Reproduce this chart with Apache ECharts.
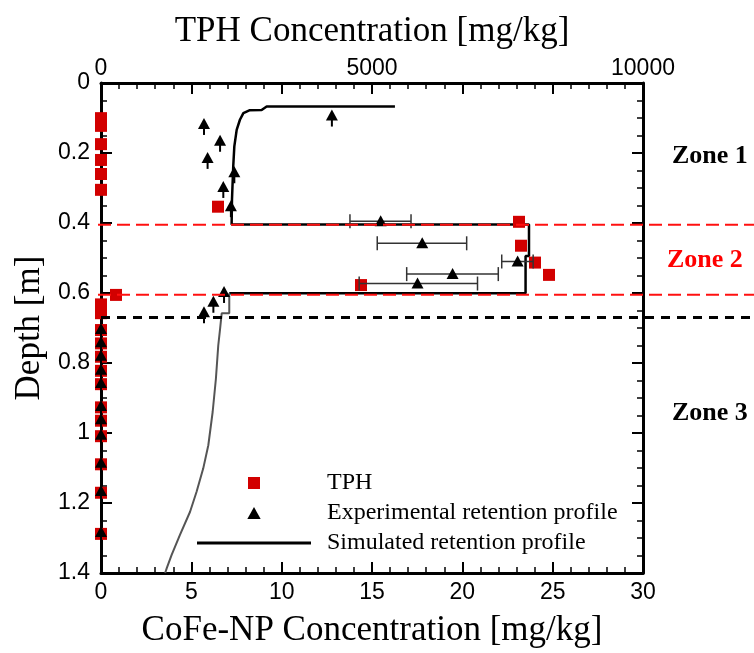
<!DOCTYPE html>
<html><head><meta charset="utf-8">
<script src="https://cdn.jsdelivr.net/npm/echarts@6/dist/echarts.min.js"></script>
<style>html,body{margin:0;padding:0;background:#fff}#c{width:754px;height:653px}</style>
</head><body><div id="c"></div>
<script>
// ---- data ----
const tphValues = [0, 0, 0, 0, 0, 0, 2159, 7712, 7749, 8007, 8266, 4797, 277, 0, 0, 0, 0, 0, 0, 0, 0, 0, 0, 0, 0, 0];
const tphDepths = [0.100, 0.122, 0.174, 0.219, 0.259, 0.304, 0.352, 0.395, 0.463, 0.511, 0.546, 0.575, 0.603, 0.630, 0.655, 0.703, 0.741, 0.779, 0.819, 0.857, 0.923, 0.961, 1.005, 1.085, 1.166, 1.283];

const expCoFe   = [12.78, 5.70, 6.59, 5.90, 7.38, 6.77, 7.19, 15.48, 17.78, 23.06, 19.46, 17.52, 6.81, 6.22, 5.70, 0, 0, 0, 0, 0, 0, 0, 0, 0, 0, 0];
const expDepths = [0.093, 0.117, 0.165, 0.214, 0.255, 0.297, 0.352, 0.395, 0.458, 0.510, 0.546, 0.573, 0.597, 0.625, 0.655, 0.703, 0.741, 0.779, 0.819, 0.857, 0.923, 0.961, 1.005, 1.085, 1.166, 1.283];
const expErrLow  = [null, null, null, null, null, null, null, 13.78, 15.29, 22.18, 16.92, 14.29, null, null, null, null, null, null, null, null, null, null, null, null, null, null];
const expErrHigh = [null, null, null, null, null, null, null, 17.16, 20.24, 23.92, 21.99, 20.84, null, null, null, null, null, null, null, null, null, null, null, null, null, null];

const simUpperCoFe  = [16.27, 9.17, 8.89, 8.21, 7.88, 7.69, 7.51, 7.38, 7.32, 7.25, 7.23, 23.69, 23.69, 23.50, 23.50, 7.10];
const simUpperDepth = [0.067, 0.067, 0.077, 0.078, 0.086, 0.105, 0.134, 0.181, 0.238, 0.333, 0.404, 0.404, 0.494, 0.494, 0.601, 0.601];
const simLowerCoFe  = [7.10, 7.10, 6.68, 6.59, 6.49, 6.36, 6.18, 5.94, 5.66, 5.29, 4.93, 4.37, 3.91, 3.64, 3.55];
const simLowerDepth = [0.601, 0.658, 0.658, 0.703, 0.750, 0.845, 0.940, 1.035, 1.101, 1.168, 1.225, 1.291, 1.348, 1.386, 1.400];

const zoneBoundsRed = [0.405, 0.605];
const zoneBoundBlack = [0.670];
const zoneLabels = ['Zone 1', 'Zone 2', 'Zone 3'];
const zoneLabelDepths = [0.21, 0.507, 0.945];
const zoneLabelColors = ['#000', '#ff0000', '#000'];

const cofeTicks = {min: 0, max: 30, interval: 5};
const tphTicks = {min: 0, max: 10000, interval: 5000};
const depthTicks = {min: 0, max: 1.4, interval: 0.2};

// ---- chart ----
const chart = echarts.init(document.getElementById('c'), null, {renderer: 'canvas'});
const sans = 'Liberation Sans';
const serif = 'Liberation Serif';
const axisLine = {show: true, onZero: false, lineStyle: {color: '#000', width: 3}};
const tick = {show: true, inside: true, length: 11, lineStyle: {color: '#000', width: 2}};
const minor = (n) => ({show: true, splitNumber: n, length: 6, lineStyle: {color: '#000', width: 1.5}});
const lbl = (m) => ({fontFamily: sans, fontSize: 23, color: '#000', margin: m});
const nameStyle = {fontFamily: serif, fontSize: 35, color: '#000'};
const gridRect = {left: 101, right: 111, top: 83, bottom: 78, containLabel: false};

const option = {
  animation: false,
  backgroundColor: '#fff',
  grid: [Object.assign({}, gridRect), Object.assign({}, gridRect)],
  xAxis: [
    {gridIndex: 0, type: 'value', position: 'bottom', min: cofeTicks.min, max: cofeTicks.max, interval: cofeTicks.interval,
     name: 'CoFe-NP Concentration [mg/kg]', nameLocation: 'middle', nameGap: 40, nameTextStyle: nameStyle,
     axisLine: axisLine, axisTick: tick, minorTick: minor(5), axisLabel: lbl(8), splitLine: {show: false}},
    {gridIndex: 0, type: 'value', position: 'top', min: cofeTicks.min, max: cofeTicks.max, interval: cofeTicks.interval,
     axisLine: axisLine, axisTick: tick, minorTick: minor(5), axisLabel: {show: false}, splitLine: {show: false}},
    {gridIndex: 1, type: 'value', position: 'top', min: tphTicks.min, max: tphTicks.max, interval: tphTicks.interval,
     name: 'TPH Concentration [mg/kg]', nameLocation: 'middle', nameGap: 34, nameTextStyle: nameStyle,
     axisLine: {show: false}, axisTick: {show: false},
     axisLabel: Object.assign(lbl(3), {formatter: v => String(Math.round(v))}), splitLine: {show: false}}
  ],
  yAxis: [
    {gridIndex: 0, type: 'value', inverse: true, position: 'left', min: depthTicks.min, max: depthTicks.max, interval: depthTicks.interval,
     name: 'Depth [m]', nameLocation: 'middle', nameGap: 54, nameTextStyle: nameStyle,
     axisLine: axisLine, axisTick: tick, minorTick: minor(4), axisLabel: lbl(11), splitLine: {show: false}},
    {gridIndex: 0, type: 'value', inverse: true, position: 'right', min: depthTicks.min, max: depthTicks.max, interval: depthTicks.interval,
     axisLine: axisLine, axisTick: tick, minorTick: minor(4), axisLabel: {show: false}, splitLine: {show: false}},
    {gridIndex: 1, type: 'value', inverse: true, position: 'left', min: depthTicks.min, max: depthTicks.max, interval: depthTicks.interval,
     show: false}
  ],
  legend: {
    orient: 'vertical', left: 192, top: 466, itemWidth: 114, itemHeight: 12, itemGap: 6,
    selectedMode: false,
    textStyle: {fontFamily: serif, fontSize: 24, color: '#000', lineHeight: 24, padding: [0, 0, 0, 11]},
    data: [
      {name: 'TPH', icon: 'path://M0,0L10,0L10,10L0,10Z'},
      {name: 'Experimental retention profile', icon: 'path://M5,0L10,9L0,9Z'},
      {name: 'Simulated retention profile', icon: 'path://M0,0L114,0L114,3L0,3Z'}
    ]
  },
  series: [
    {name: 'Simulated retention profile', type: 'line', xAxisIndex: 0, yAxisIndex: 0, symbol: 'none',
     data: simUpperCoFe.map((c, i) => [c, simUpperDepth[i]]),
     lineStyle: {color: '#000', width: 2.5}, itemStyle: {color: '#000'}, z: 2, silent: true},
    {name: 'Simulated retention profile', type: 'line', xAxisIndex: 0, yAxisIndex: 0, symbol: 'none', smooth: false,
     data: simLowerCoFe.map((c, i) => [c, simLowerDepth[i]]),
     lineStyle: {color: '#555', width: 2}, itemStyle: {color: '#555'}, z: 2, silent: true},
    {name: 'TPH', type: 'scatter', xAxisIndex: 2, yAxisIndex: 2, symbol: 'rect', symbolSize: 12, clip: false,
     data: tphValues.map((t, i) => [t, tphDepths[i]]),
     itemStyle: {color: '#d20000', opacity: 1}, z: 3, silent: true},
    {name: 'Experimental retention profile', type: 'custom', xAxisIndex: 0, yAxisIndex: 0, z: 4, silent: true,
     itemStyle: {color: '#000'},
     encode: {x: 0, y: 1},
     data: expCoFe.map((c, i) => [c, expDepths[i]]),
     renderItem: function (params, api) {
       const i = params.dataIndex;
       const p = api.coord([api.value(0), api.value(1)]);
       const ch = [];
       const lo = expErrLow[i], hi = expErrHigh[i];
       if (lo != null && hi != null) {
         const a = api.coord([lo, api.value(1)]), b = api.coord([hi, api.value(1)]);
         const st = {stroke: '#333', lineWidth: 1.5};
         ch.push({type: 'line', shape: {x1: a[0], y1: a[1], x2: b[0], y2: b[1]}, style: st});
         ch.push({type: 'line', shape: {x1: a[0], y1: a[1] - 7, x2: a[0], y2: a[1] + 7}, style: st});
         ch.push({type: 'line', shape: {x1: b[0], y1: b[1] - 7, x2: b[0], y2: b[1] + 7}, style: st});
       } else {
         ch.push({type: 'line', shape: {x1: p[0], y1: p[1], x2: p[0], y2: p[1] + 11}, style: {stroke: '#000', lineWidth: 2}});
       }
       ch.push({type: 'polygon', shape: {points: [[p[0], p[1] - 6], [p[0] + 6, p[1] + 5], [p[0] - 6, p[1] + 5]]}, style: {fill: '#000'}});
       return {type: 'group', children: ch};
     }}
  ]
};
chart.setOption(option);

// zone boundary lines and labels (positions from axis scale)
const gx0 = chart.convertToPixel({xAxisIndex: 0}, 0);
const gx1 = chart.convertToPixel({xAxisIndex: 0}, 30);
const graphics = [];
zoneBoundsRed.forEach(d => {
  const y = chart.convertToPixel({yAxisIndex: 0}, d);
  graphics.push({type: 'line', z: 10, silent: true, shape: {x1: gx0 - 3, y1: y, x2: 754, y2: y},
    style: {stroke: '#ff1010', lineWidth: 2, lineDash: [13, 6]}});
});
zoneBoundBlack.forEach(d => {
  const y = chart.convertToPixel({yAxisIndex: 0}, d);
  graphics.push({type: 'line', z: 10, silent: true, shape: {x1: gx0, y1: y, x2: 754, y2: y},
    style: {stroke: '#000', lineWidth: 3, lineDash: [9, 7]}});
});
zoneLabels.forEach((t, i) => {
  const y = chart.convertToPixel({yAxisIndex: 0}, zoneLabelDepths[i]);
  graphics.push({type: 'text', z: 10, silent: true, x: (i === 1 ? gx1 + 24 : gx1 + 29), y: y,
    style: {text: t, fontFamily: serif, fontWeight: 'bold', fontSize: 26, fill: zoneLabelColors[i], align: 'left', verticalAlign: 'middle'}});
});
chart.setOption({graphic: graphics});
</script>
</body></html>
